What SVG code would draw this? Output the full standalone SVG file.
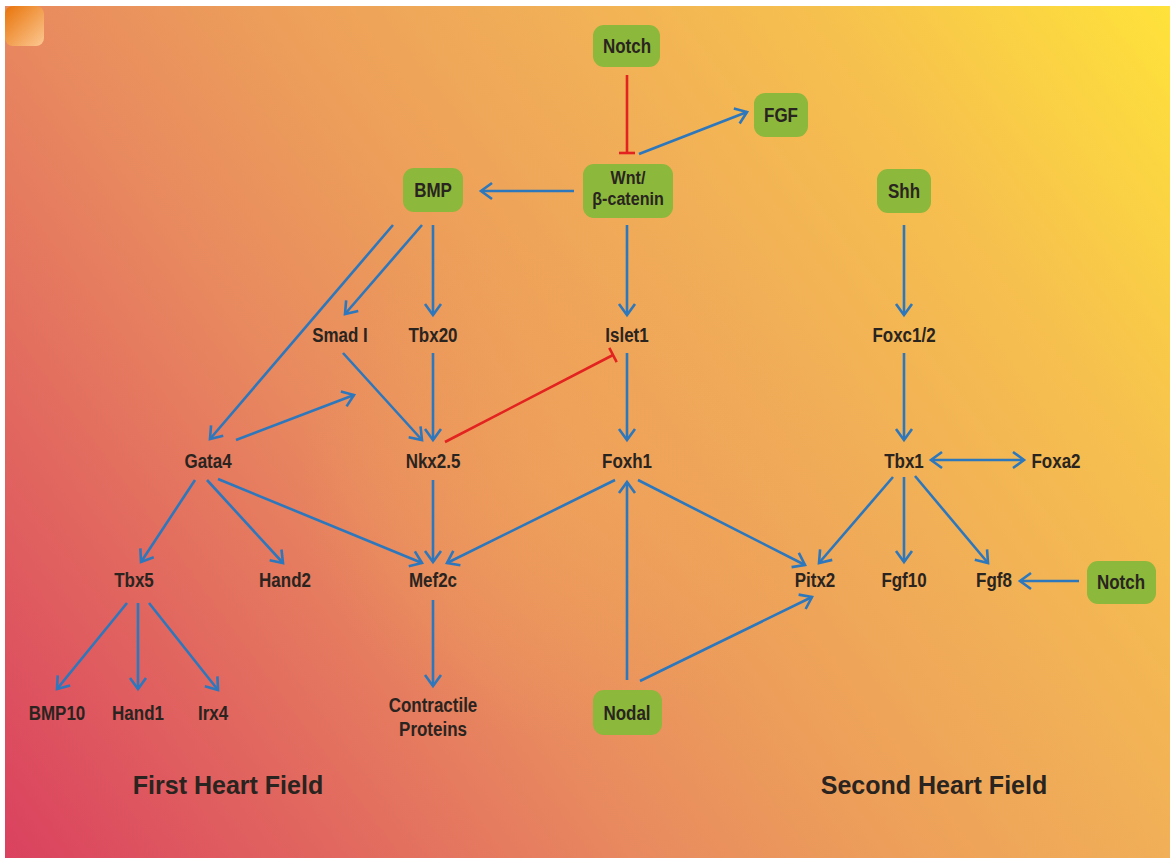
<svg xmlns="http://www.w3.org/2000/svg" width="1173" height="867" viewBox="0 0 1173 867">
<defs>
<linearGradient id="bg" gradientUnits="userSpaceOnUse" x1="0" y1="867" x2="1173" y2="0">
<stop offset="0" stop-color="#da405f"/>
<stop offset="0.18" stop-color="#e1655f"/>
<stop offset="0.353" stop-color="#e8895f"/>
<stop offset="0.5" stop-color="#ed9f5a"/>
<stop offset="0.65" stop-color="#f1af57"/>
<stop offset="0.8" stop-color="#f6c04e"/>
<stop offset="1" stop-color="#ffe33a"/>
</linearGradient>
<radialGradient id="glow" gradientUnits="userSpaceOnUse" cx="560" cy="480" r="260">
<stop offset="0" stop-color="#f2a95a" stop-opacity="0.45"/>
<stop offset="1" stop-color="#f2a95a" stop-opacity="0"/>
</radialGradient>
<linearGradient id="sq" x1="0" y1="0" x2="1" y2="1">
<stop offset="0" stop-color="#e8740a"/>
<stop offset="1" stop-color="#fcc892"/>
</linearGradient>
<marker id="arr" markerUnits="userSpaceOnUse" markerWidth="30" markerHeight="30" viewBox="-15 -15 30 30" refX="0" refY="0" orient="auto-start-reverse">
<path d="M-11,-8 L0,0 L-11,8" fill="none" stroke="#2d77bd" stroke-width="2.6" stroke-linejoin="miter"/>
</marker>
</defs>
<style>
.lbl{font-family:"Liberation Sans",Arial,sans-serif;font-weight:bold;font-size:19.5px;fill:#2a2420;text-anchor:middle}
.sm{font-size:18.5px}
.big{font-family:"Liberation Sans",Arial,sans-serif;font-weight:bold;font-size:25px;fill:#2a2420;text-anchor:middle}
.box{fill:#8cb83b}
.a{stroke:#2d77bd;stroke-width:2.6;fill:none;marker-end:url(#arr)}
.r{stroke:#e2231f;stroke-width:2.6;fill:none}
</style>
<rect x="0" y="0" width="1173" height="867" fill="#ffffff"/>
<rect x="5" y="6" width="1165" height="852" fill="url(#bg)"/>
<rect x="5" y="6" width="1165" height="852" fill="url(#glow)"/>
<rect x="5" y="6" width="39" height="40" rx="8" fill="url(#sq)"/>

<g id="connectors">
<line class="r" x1="627" y1="75" x2="627" y2="153"/>
<line class="r" x1="619" y1="153" x2="635" y2="153"/>
<line class="a" x1="639" y1="154" x2="747" y2="112"/>
<line class="a" x1="574" y1="191" x2="481" y2="191"/>
<line class="a" x1="433" y1="225" x2="433" y2="315"/>
<line class="a" x1="422" y1="225" x2="345" y2="314"/>
<line class="a" x1="393" y1="225" x2="210" y2="439"/>
<line class="a" x1="236" y1="440" x2="354" y2="395"/>
<line class="a" x1="343" y1="353" x2="422" y2="440"/>
<line class="a" x1="433" y1="353" x2="433" y2="440"/>
<line class="r" x1="445" y1="442" x2="613" y2="355"/>
<line class="r" x1="609.3" y1="347.9" x2="616.7" y2="362.1"/>
<line class="a" x1="627" y1="225" x2="627" y2="315"/>
<line class="a" x1="627" y1="353" x2="627" y2="440"/>
<line class="a" x1="433" y1="480" x2="433" y2="562"/>
<line class="a" x1="218" y1="479" x2="422" y2="563"/>
<line class="a" x1="207" y1="480" x2="283" y2="563"/>
<line class="a" x1="195" y1="480" x2="141" y2="562"/>
<line class="a" x1="615" y1="480" x2="447" y2="563"/>
<line class="a" x1="638" y1="480" x2="805" y2="565"/>
<line class="a" x1="627" y1="680" x2="627" y2="482"/>
<line class="a" x1="640" y1="681" x2="812" y2="597"/>
<line class="a" x1="893" y1="477" x2="819" y2="563"/>
<line class="a" x1="904" y1="477" x2="904" y2="562"/>
<line class="a" x1="915" y1="476" x2="988" y2="563"/>
<line class="a" x1="931" y1="460" x2="1024" y2="460" style="marker-start:url(#arr)"/>
<line class="a" x1="1079" y1="581" x2="1020" y2="581"/>
<line class="a" x1="904" y1="225" x2="904" y2="315"/>
<line class="a" x1="904" y1="353" x2="904" y2="440"/>
<line class="a" x1="433" y1="600" x2="433" y2="686"/>
<line class="a" x1="127" y1="603" x2="57" y2="689"/>
<line class="a" x1="138" y1="603" x2="138" y2="689"/>
<line class="a" x1="149" y1="603" x2="218" y2="690"/>
</g>

<g id="n-notch-top"><rect class="box" x="593" y="25" width="67" height="42" rx="11"/><text class="lbl" transform="translate(627 53) scale(0.87 1)">Notch</text></g>
<g id="n-fgf"><rect class="box" x="754" y="93" width="54" height="44" rx="11"/><text class="lbl" transform="translate(781 122) scale(0.87 1)">FGF</text></g>
<g id="n-wnt"><rect class="box" x="583" y="164" width="90" height="54" rx="11"/><text class="lbl sm" transform="translate(628 184) scale(0.87 1)">Wnt/</text><text class="lbl sm" transform="translate(628 205) scale(0.87 1)">β-catenin</text></g>
<g id="n-bmp"><rect class="box" x="403" y="168" width="60" height="44" rx="11"/><text class="lbl" transform="translate(433 197) scale(0.87 1)">BMP</text></g>
<g id="n-shh"><rect class="box" x="877" y="169" width="54" height="44" rx="11"/><text class="lbl" transform="translate(904 198) scale(0.87 1)">Shh</text></g>
<g id="n-smad"><text class="lbl" transform="translate(340 342) scale(0.87 1)">Smad I</text></g>
<g id="n-tbx20"><text class="lbl" transform="translate(433 342) scale(0.87 1)">Tbx20</text></g>
<g id="n-islet1"><text class="lbl" transform="translate(627 342) scale(0.87 1)">Islet1</text></g>
<g id="n-foxc"><text class="lbl" transform="translate(904 342) scale(0.87 1)">Foxc1/2</text></g>
<g id="n-gata4"><text class="lbl" transform="translate(208 468) scale(0.87 1)">Gata4</text></g>
<g id="n-nkx"><text class="lbl" transform="translate(433 468) scale(0.87 1)">Nkx2.5</text></g>
<g id="n-foxh1"><text class="lbl" transform="translate(627 468) scale(0.87 1)">Foxh1</text></g>
<g id="n-tbx1"><text class="lbl" transform="translate(904 468) scale(0.87 1)">Tbx1</text></g>
<g id="n-foxa2"><text class="lbl" transform="translate(1056 468) scale(0.87 1)">Foxa2</text></g>
<g id="n-tbx5"><text class="lbl" transform="translate(134 587) scale(0.87 1)">Tbx5</text></g>
<g id="n-hand2"><text class="lbl" transform="translate(285 587) scale(0.87 1)">Hand2</text></g>
<g id="n-mef2c"><text class="lbl" transform="translate(433 587) scale(0.87 1)">Mef2c</text></g>
<g id="n-pitx2"><text class="lbl" transform="translate(815 587) scale(0.87 1)">Pitx2</text></g>
<g id="n-fgf10"><text class="lbl" transform="translate(904 587) scale(0.87 1)">Fgf10</text></g>
<g id="n-fgf8"><text class="lbl" transform="translate(994 587) scale(0.87 1)">Fgf8</text></g>
<g id="n-notch-right"><rect class="box" x="1087" y="561" width="69" height="43" rx="11"/><text class="lbl" transform="translate(1121 589) scale(0.87 1)">Notch</text></g>
<g id="n-bmp10"><text class="lbl" transform="translate(57 720) scale(0.87 1)">BMP10</text></g>
<g id="n-hand1"><text class="lbl" transform="translate(138 720) scale(0.87 1)">Hand1</text></g>
<g id="n-irx4"><text class="lbl" transform="translate(213 720) scale(0.87 1)">Irx4</text></g>
<g id="n-contractile"><text class="lbl" transform="translate(433 712) scale(0.87 1)">Contractile</text><text class="lbl" transform="translate(433 736) scale(0.87 1)">Proteins</text></g>
<g id="n-nodal"><rect class="box" x="593" y="690" width="69" height="45" rx="11"/><text class="lbl" transform="translate(627 720) scale(0.87 1)">Nodal</text></g>
<g id="t-first"><text class="big" x="228" y="794">First Heart Field</text></g>
<g id="t-second"><text class="big" x="934" y="794">Second Heart Field</text></g>
</svg>
